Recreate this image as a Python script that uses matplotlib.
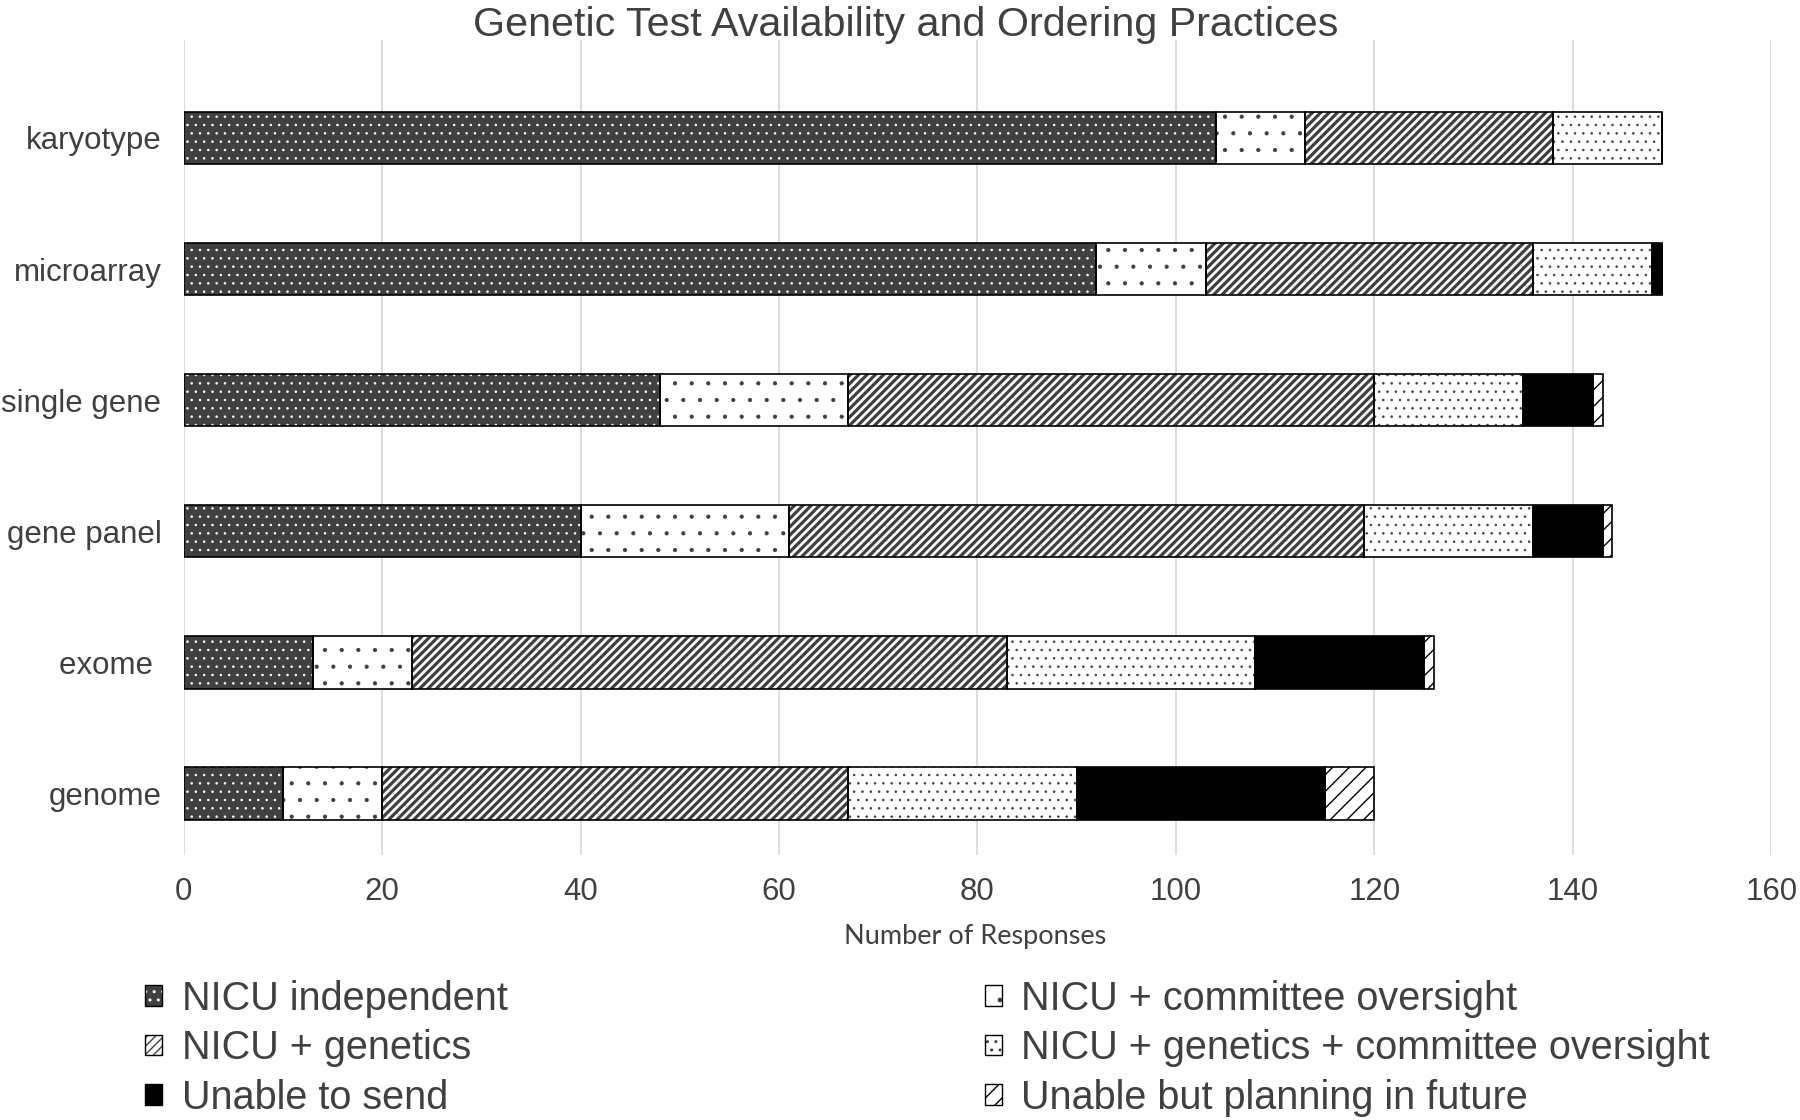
import matplotlib
matplotlib.use("Agg")
import matplotlib.pyplot as plt
from matplotlib.patches import Patch
import numpy as np

plt.rcParams["font.family"] = ["Liberation Sans", "DejaVu Sans"]

# values (number of responses)
categories = ["karyotype", "microarray", "single gene", "gene panel", "exome ", "genome"]
series_names = [
    "NICU independent",
    "NICU + committee oversight",
    "NICU + genetics",
    "NICU + genetics + committee oversight",
    "Unable to send",
    "Unable but planning in future",
]
nicu_independent = [104, 92, 48, 40, 13, 10]
nicu_committee = [9, 11, 19, 21, 10, 10]
nicu_genetics = [25, 33, 53, 58, 60, 47]
nicu_genetics_committee = [11, 12, 15, 17, 25, 23]
unable_to_send = [0, 1, 7, 7, 17, 25]
unable_planning = [0, 0, 1, 1, 1, 5]
x_ticks = [0, 20, 40, 60, 80, 100, 120, 140, 160]

series_values = [
    nicu_independent,
    nicu_committee,
    nicu_genetics,
    nicu_genetics_committee,
    unable_to_send,
    unable_planning,
]

# (face colour, hatch, hatch colour, hatch line width)
STYLES = [
    ("#404040", "..", "white", 0.6),
    ("white", ".", "#404040", 0.6),
    ("white", "////", "#404040", 2.3),
    ("white", "..", "#404040", 0.6),
    ("black", None, "black", 0.6),
    ("white", "//", "black", 1.0),
]
TEXT_COLOR = "#404040"
OUTLINE_LW = 1.2


def _set_hatch_lw(patch, lw):
    if hasattr(patch, "set_hatch_linewidth"):
        patch.set_hatch_linewidth(lw)


fig = plt.figure(figsize=(18, 11.2), dpi=100)
ax = fig.add_axes([0.102, 0.2366, 0.882, 0.7274])

y = np.arange(len(categories))
left = np.zeros(len(categories))
for values, (face, hatch, hcolor, hlw) in zip(series_values, STYLES):
    bars = ax.barh(y, values, left=left, height=0.4, color=face,
                   edgecolor=hcolor, linewidth=0, hatch=hatch, zorder=2)
    for b in bars:
        _set_hatch_lw(b, hlw)
    ax.barh(y, values, left=left, height=0.4, fill=False,
            edgecolor="black", linewidth=OUTLINE_LW, zorder=3)
    left += np.array(values)

ax.set_xlim(0, 160)
ax.set_ylim(5.47, -0.745)
ax.set_xticks(x_ticks)
ax.set_yticks(y)
ax.set_yticklabels(categories)
ax.tick_params(axis="both", length=0, labelsize=22.5, labelcolor=TEXT_COLOR)
ax.tick_params(axis="y", pad=16)
ax.tick_params(axis="x", pad=16)
ax.grid(axis="x", color="#d9d9d9", linewidth=1.3)
ax.set_axisbelow(True)
for spine in ax.spines.values():
    spine.set_visible(False)

fig.text(0.503, 0.968, "Genetic Test Availability and Ordering Practices",
         ha="center", va="baseline", fontsize=29.7, color=TEXT_COLOR)
fig.text(0.542, 0.164, "Number of Responses", ha="center", va="center",
         fontsize=19.5, color=TEXT_COLOR, family=["Lato", "DejaVu Sans"])

# legend: two columns of three rows, filled row by row
handles = []
for face, hatch, hcolor, hlw in STYLES:
    fill_patch = Patch(facecolor=face, edgecolor=hcolor, linewidth=0, hatch=hatch)
    _set_hatch_lw(fill_patch, hlw)
    outline = Patch(fill=False, edgecolor="black", linewidth=1.0)
    handles.append((fill_patch, outline))

legend_kw = dict(loc="center left", frameon=False, fontsize=28.5,
                 handlelength=0.43, handleheight=0.43, handletextpad=0.5,
                 labelspacing=0.29, borderpad=0, borderaxespad=0,
                 labelcolor=TEXT_COLOR)
fig.legend([handles[i] for i in (0, 2, 4)], [series_names[i] for i in (0, 2, 4)],
           bbox_to_anchor=(0.0806, 0.0642), **legend_kw)
fig.legend([handles[i] for i in (1, 3, 5)], [series_names[i] for i in (1, 3, 5)],
           bbox_to_anchor=(0.547, 0.0642), **legend_kw)

fig.savefig("out.png", dpi=100, facecolor="white")
